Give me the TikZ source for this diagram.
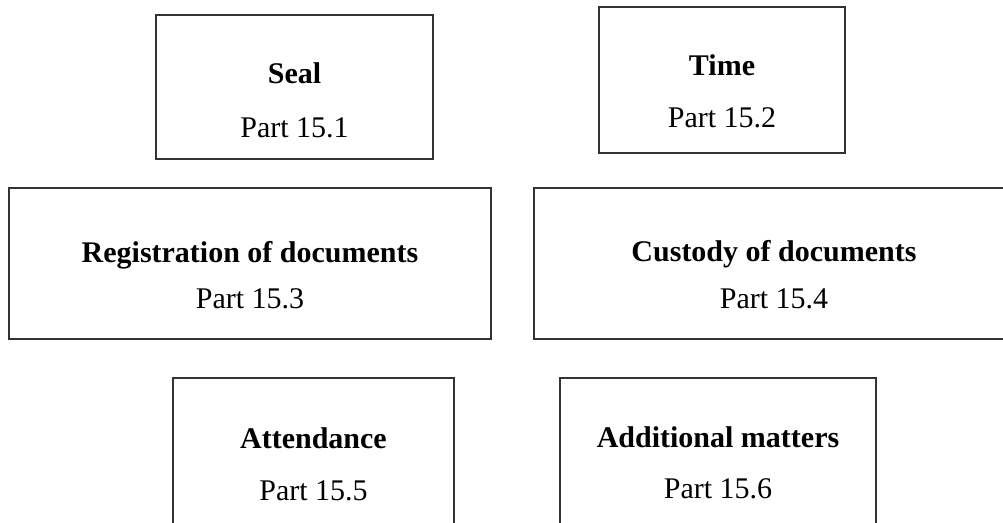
\documentclass[tikz,border=0pt]{standalone}
\usepackage{fontspec}
\setmainfont{Liberation Serif}

\begin{document}
\begin{tikzpicture}[x=0.75pt, y=-0.75pt,
  box/.style={draw=black!80, line width=0.9pt, rectangle, inner sep=0pt, outer sep=0pt},
  ttl/.style={anchor=base, font=\fontsize{22.5}{27}\selectfont\bfseries},
  prt/.style={anchor=base, font=\fontsize{22.5}{27}\selectfont}]

\clip (0,0) rectangle (1003,522);

\node[box, minimum width=207.75pt, minimum height=108pt] (seal) at (294.5,87) {};
\node[box, minimum width=184.5pt, minimum height=109.5pt] (time) at (722,80) {};
\node[box, minimum width=361.5pt, minimum height=113.25pt] (regdocs) at (250,263.5) {};
\node[box, minimum width=360pt, minimum height=113.25pt] (custdocs) at (774,263.5) {};
\node[box, minimum width=210.75pt, minimum height=112.5pt] (attend) at (313.5,453) {};
\node[box, minimum width=237pt, minimum height=112.5pt] (addmat) at (718,453) {};

\node[ttl] (sealttl) at (294.5,83) {Seal};
\node[prt] (sealprt) at (294.5,137) {Part 15.1};
\node[ttl] (timettl) at (722,75) {Time};
\node[prt] (timeprt) at (722,127) {Part 15.2};
\node[ttl] (regttl) at (250,262) {Registration of documents};
\node[prt] (regprt) at (250,308) {Part 15.3};
\node[ttl] (custttl) at (774,261) {Custody of documents};
\node[prt] (custprt) at (774,308) {Part 15.4};
\node[ttl] (attttl) at (313.5,448) {Attendance};
\node[prt] (attprt) at (313.5,500) {Part 15.5};
\node[ttl] (addttl) at (718,447) {Additional matters};
\node[prt] (addprt) at (718,498) {Part 15.6};
\end{tikzpicture}
\end{document}
